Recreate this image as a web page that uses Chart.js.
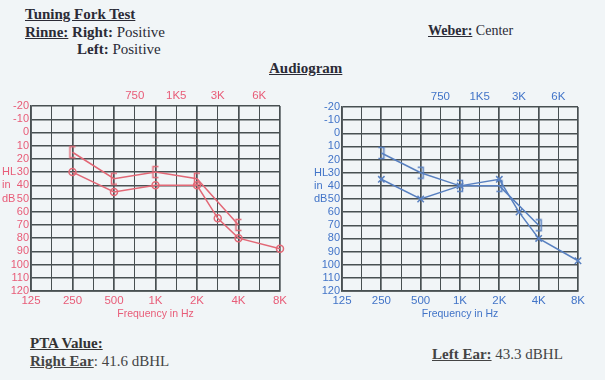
<!DOCTYPE html>
<html><head><meta charset="utf-8">
<script src="https://cdn.jsdelivr.net/npm/chart.js@4"></script>
<style>
html,body{margin:0;padding:0}
body{width:605px;height:380px;background:#f1f5f7;position:relative;overflow:hidden;font-family:'Liberation Serif','Times New Roman',serif;color:#2b2b36}
.t{position:absolute;white-space:nowrap;font-size:15px;line-height:15px}
.cw{position:absolute;top:85px;width:300px;height:235px}
</style></head><body>
<div class="t" style="left:25px;top:7px"><b><u>Tuning Fork Test</u></b></div>
<div class="t" style="left:25px;top:25px"><b><u>Rinne:</u> Right:</b> Positive</div>
<div class="t" style="left:77px;top:42px"><b>Left:</b> Positive</div>
<div class="t" style="left:428px;top:23px;font-size:14px"><b><u>Weber:</u></b> Center</div>
<div class="t" style="left:269px;top:61px"><b><u>Audiogram</u></b></div>
<div class="t" style="left:30px;top:336px;color:#333"><b><u>PTA Value:</u></b></div>
<div class="t" style="left:30px;top:354px;color:#444"><b><u>Right Ear</u></b>: 41.6 dBHL</div>
<div class="t" style="left:432px;top:347px;color:#444"><b><u>Left Ear:</u></b> 43.3 dBHL</div>
<div class="cw" style="left:0px"><canvas id="cR" width="300" height="235"></canvas></div>
<div class="cw" style="left:300px"><canvas id="cL" width="300" height="235"></canvas></div>
<script>
// ---- data ----
const bottomTickHz = [125, 250, 500, 1000, 2000, 4000, 8000];
const bottomTickLabels = ['125', '250', '500', '1K', '2K', '4K', '8K'];
const topTickHz = [750, 1500, 3000, 6000];
const topTickLabels = ['750', '1K5', '3K', '6K'];
const hlMin = -20, hlMax = 120, hlStep = 10;
const axisTitleLines = ['HL', 'in', 'dB'];
const axisTitleRows = [30, 40, 50];

const rightAirHz = [250, 500, 1000, 2000, 3000, 4000, 8000];
const rightAirDb = [30, 45, 40, 40, 65, 80, 88];
const rightBoneHz = [250, 500, 1000, 2000, 4000];
const rightBoneDb = [15, 35, 30, 35, 70];

const leftAirHz = [250, 500, 1000, 2000, 3000, 4000, 8000];
const leftAirDb = [35, 50, 40, 35, 60, 80, 97];
const leftBoneHz = [250, 500, 1000, 2000, 4000];
const leftBoneDb = [15, 30, 40, 40, 70];

// ---- helpers ----
function pos(hz) { return Math.round(Math.log2(hz / 125) * 2) / 2; }
function pts(hz, db) { return hz.map((h, i) => ({ x: pos(h), y: db[i] })); }
function bracket(color, openRight) {
  const c = document.createElement('canvas'); c.width = 10; c.height = 14;
  const g = c.getContext('2d'); g.strokeStyle = color; g.lineWidth = 1.5;
  g.beginPath();
  if (openRight) { g.moveTo(8, 1.5); g.lineTo(2.5, 1.5); g.lineTo(2.5, 12.5); g.lineTo(8, 12.5); }
  else { g.moveTo(2, 1.5); g.lineTo(7.5, 1.5); g.lineTo(7.5, 12.5); g.lineTo(2, 12.5); }
  g.stroke(); return c;
}
const gridCol = 'rgb(72,80,82)';
const narrow = "'Liberation Sans Narrow','Arial Narrow','Liberation Sans',sans-serif";

function makeChart(id, cfg) {
  const titlePlugin = {
    id: 'hl' + id,
    afterDraw(chart) {
      const ctx = chart.ctx, ys = chart.scales.y;
      ctx.save();
      ctx.font = '11px ' + narrow;
      ctx.fillStyle = cfg.label;
      ctx.textAlign = 'left'; ctx.textBaseline = 'middle';
      axisTitleLines.forEach((t, i) => ctx.fillText(t, cfg.hlX, ys.getPixelForValue(axisTitleRows[i])));
      ctx.restore();
    }
  };
  return new Chart(document.getElementById(id), {
    type: 'line',
    data: {
      datasets: [
        {
          data: cfg.air, borderColor: cfg.line, borderWidth: 1.5, backgroundColor: 'rgba(0,0,0,0)',
          pointStyle: cfg.airStyle, pointRadius: cfg.airRadius, pointBorderWidth: 1.5,
          pointBorderColor: cfg.line, pointBackgroundColor: 'rgba(0,0,0,0)', clip: false, tension: 0
        },
        {
          data: cfg.bone, borderColor: cfg.line, borderWidth: 1.5, backgroundColor: 'rgba(0,0,0,0)',
          pointStyle: cfg.boneStyle, pointRadius: 5, clip: false, tension: 0
        }
      ]
    },
    options: {
      responsive: false, animation: false, devicePixelRatio: 1,
      layout: { padding: { left: 0, right: cfg.padRight, top: 0, bottom: 0 } },
      plugins: { legend: { display: false }, tooltip: { enabled: false } },
      scales: {
        x: {
          type: 'linear', position: 'bottom', min: 0, max: 6,
          afterFit(s) { s.height = 29; },
          grid: {
            color: gridCol, drawTicks: false,
            lineWidth: (c) => (c.tick && Number.isInteger(c.tick.value)) ? 1.7 : 1
          },
          border: { display: true, color: gridCol, width: 1.7 },
          ticks: {
            stepSize: 0.5, autoSkip: false, maxRotation: 0, padding: 3, color: cfg.label,
            font: { family: narrow, size: 11.5 },
            callback(v) { const i = bottomTickHz.findIndex(h => pos(h) === v); return i >= 0 ? bottomTickLabels[i] : ''; }
          },
          title: { display: true, text: 'Frequency in Hz', color: cfg.label, padding: { top: 0, bottom: 0 }, font: { family: narrow, size: 10.5 } }
        },
        xTop: {
          type: 'linear', position: 'top', min: 0, max: 6,
          afterFit(s) { s.height = cfg.topH; },
          grid: { display: false, drawTicks: false },
          border: { display: false },
          ticks: {
            stepSize: 0.5, autoSkip: false, maxRotation: 0, padding: 3, color: cfg.label,
            font: { family: narrow, size: 11.5 },
            callback(v) { const i = topTickHz.findIndex(h => pos(h) === v); return i >= 0 ? topTickLabels[i] : ''; }
          }
        },
        y: {
          type: 'linear', reverse: true, min: hlMin, max: hlMax,
          afterFit(s) { s.width = cfg.yW; },
          grid: { color: gridCol, lineWidth: 1.4, drawTicks: false },
          border: { display: true, color: gridCol, width: 1.7 },
          ticks: { stepSize: hlStep, autoSkip: false, padding: 2, color: cfg.label, font: { family: narrow, size: 11 } }
        }
      }
    },
    plugins: [titlePlugin]
  });
}

const red = 'rgb(226,104,118)', redLabel = 'rgb(232,92,120)';
const blue = 'rgb(88,128,192)', blueLabel = 'rgb(66,116,200)';

makeChart('cR', {
  air: pts(rightAirHz, rightAirDb), bone: pts(rightBoneHz, rightBoneDb),
  line: red, label: redLabel, airStyle: 'circle', airRadius: 3.5, boneStyle: bracket(red, true),
  yW: 31, topH: 21, padRight: 20, hlX: 2
});
makeChart('cL', {
  air: pts(leftAirHz, leftAirDb), bone: pts(leftBoneHz, leftBoneDb),
  line: blue, label: blueLabel, airStyle: 'crossRot', airRadius: 4.5, boneStyle: bracket(blue, false),
  yW: 42, topH: 22, padRight: 22, hlX: 14
});
</script>
</body></html>
